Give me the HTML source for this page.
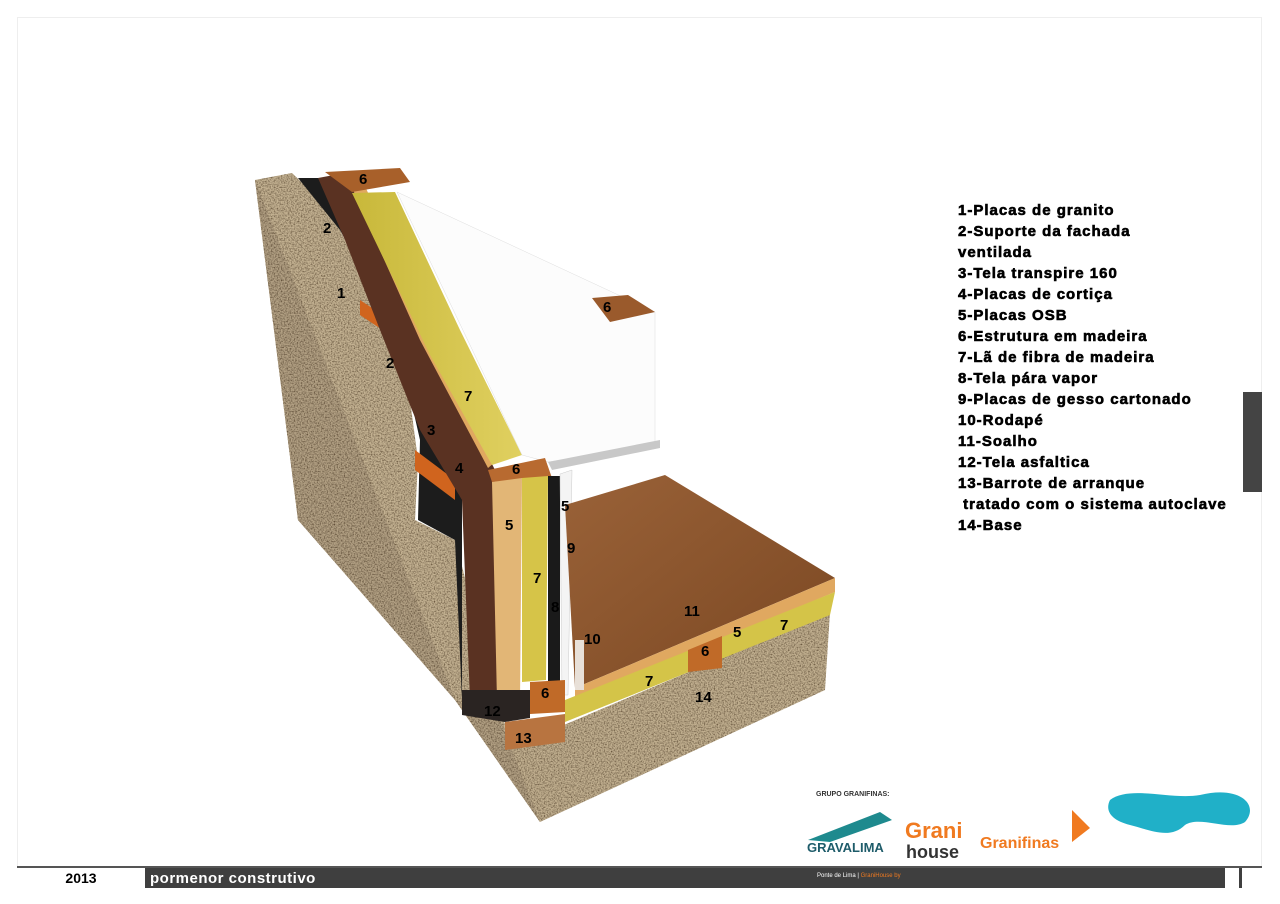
<!DOCTYPE html>
<html><head><meta charset="utf-8"><style>
html,body{margin:0;padding:0;background:#fff;width:1280px;height:904px;overflow:hidden;font-family:"Liberation Sans",sans-serif}
.frame{position:absolute;left:17px;top:17px;width:1245px;height:868px;border:1px solid #eee;box-sizing:border-box}
.legend{position:absolute;left:958px;top:200px;font-weight:bold;font-size:15px;line-height:21px;color:#000;-webkit-text-stroke:0.6px #000;letter-spacing:1px;white-space:nowrap}
.tab{position:absolute;left:1243px;top:392px;width:19px;height:100px;background:#444}
.bar{position:absolute;left:17px;top:866px;width:1245px;height:20px;background:#3f3f3f;border-top:2px solid #555}
.y{position:absolute;left:0;top:0;width:128px;height:20px;background:#fff;font-weight:bold;font-size:14px;line-height:20px;text-align:center}
.t{position:absolute;left:133px;top:0;color:#fff;font-weight:bold;font-size:15px;line-height:22px;letter-spacing:0.5px}
</style></head><body>
<div class="frame"></div>
<svg width="1280" height="904" style="position:absolute;left:0;top:0">
<defs>
<filter id="gran" x="0" y="0" width="100%" height="100%">
<feTurbulence type="fractalNoise" baseFrequency="0.7" numOctaves="2" seed="3"/>
<feColorMatrix values="0 0 0 0 0.25  0 0 0 0 0.2  0 0 0 0 0.15  0 0 0 2.2 -0.8"/>
<feComposite in2="SourceGraphic" operator="in"/>
<feBlend in2="SourceGraphic" mode="multiply"/>
</filter>
<linearGradient id="wood" x1="0" y1="0" x2="1" y2="1"><stop offset="0" stop-color="#9a6238"/><stop offset="1" stop-color="#7a4722"/></linearGradient>
<linearGradient id="yel" x1="0" y1="0" x2="1" y2="0"><stop offset="0" stop-color="#c8b83a"/><stop offset="1" stop-color="#e0d060"/></linearGradient>
</defs>
<g filter="url(#gran)">
<polygon points="255,180 292,173 330,210 370,290 400,330 410,400 418,460 415,520 455,540 500,710 540,822 455,700 298,520" fill="#c4b292"/>
<polygon points="455,695 505,750 830,612 825,690 540,822" fill="#c2b090"/>
<polygon points="255,180 298,520 455,700 540,822 500,720 455,700" fill="#b3a184"/>
</g>
<polygon points="298,178 325,178 385,290 430,420 462,470 462,700 455,540 418,520 420,440 395,330 340,230" fill="#1c1c1c"/>
<polygon points="415,450 455,480 455,500 415,470" fill="#d0641e"/>
<polygon points="360,300 390,320 390,335 360,315" fill="#d0641e"/>
<polygon points="318,178 350,172 395,255 440,350 475,430 495,470 497,690 470,700 462,500 420,430 380,330 345,240" fill="#5a3222"/>
<polygon points="345,172 360,175 430,330 495,462 488,468 420,340" fill="#e0a860"/>
<polygon points="352,193 395,192 460,330 522,455 492,465 430,355" fill="url(#yel)"/>
<polygon points="325,172 400,168 410,182 352,192" fill="#a8602a"/>
<polygon points="397,192 655,312 655,445 548,462 522,455 470,345" fill="#fcfcfc" stroke="#ddd" stroke-width="0.5"/>
<polygon points="548,462 660,440 660,448 552,470" fill="#c8c8c8"/>
<polygon points="592,298 628,295 655,312 610,322" fill="#9a5a2c"/>
<polygon points="488,470 545,458 552,478 492,482" fill="#b86a30"/>
<polygon points="492,482 522,478 520,702 497,700" fill="#e2b676"/>
<polygon points="522,478 548,476 546,680 522,682" fill="#d6c448"/>
<polygon points="548,476 560,476 560,692 548,692" fill="#1a1a1a"/>
<polygon points="560,474 572,470 568,695 562,695" fill="#f4f4f4" stroke="#ccc" stroke-width="0.5"/>
<polygon points="530,682 565,680 565,712 530,714" fill="#c06a28"/>
<polygon points="462,690 530,690 530,718 505,722 462,715" fill="#2a2422"/>
<polygon points="505,722 565,714 565,742 505,750" fill="#b87440"/>
<polygon points="565,505 665,475 835,578 575,688" fill="url(#wood)"/>
<polygon points="575,688 835,578 835,592 575,700" fill="#e0a860"/>
<polygon points="565,700 835,592 830,615 565,722" fill="#d4c448"/>
<polygon points="688,650 722,636 722,668 688,672" fill="#c06a28"/>
<polygon points="575,640 584,640 584,690 575,690" fill="#e8e0d8"/>
<g font-family="Liberation Sans" font-weight="bold" font-size="15" fill="#000">
<text x="359" y="184">6</text><text x="323" y="233">2</text><text x="337" y="298">1</text><text x="386" y="368">2</text>
<text x="464" y="401">7</text><text x="427" y="435">3</text><text x="455" y="473">4</text><text x="512" y="474">6</text>
<text x="603" y="312">6</text><text x="505" y="530">5</text><text x="561" y="511">5</text><text x="567" y="553">9</text>
<text x="533" y="583">7</text><text x="551" y="612">8</text><text x="584" y="644">10</text><text x="684" y="616">11</text>
<text x="733" y="637">5</text><text x="780" y="630">7</text><text x="701" y="656">6</text><text x="541" y="698">6</text>
<text x="645" y="686">7</text><text x="695" y="702">14</text><text x="484" y="716">12</text><text x="515" y="743">13</text>
</g>
<text x="816" y="796" font-size="7" font-weight="bold" fill="#333">GRUPO GRANIFINAS:</text>
<polygon points="808,840 880,812 892,820 830,842" fill="#1e8a8e"/>
<text x="807" y="852" font-size="13" font-weight="bold" fill="#1e5c6a">GRAVALIMA</text>
<text x="905" y="838" font-size="22" font-weight="bold" fill="#f07a20">Grani</text>
<text x="906" y="858" font-size="18" font-weight="bold" fill="#333">house</text>
<text x="980" y="848" font-size="16" font-weight="bold" fill="#f07a20">Granifinas</text>
<polygon points="1072,810 1090,828 1072,842" fill="#f07a20"/>
<path d="M1110,800 C1130,785 1170,800 1200,795 C1240,785 1260,805 1245,822 C1230,832 1200,815 1185,825 C1170,840 1150,830 1130,825 C1110,820 1105,810 1110,800Z" fill="#20b0c8"/>
<rect x="1042" y="870" width="32" height="14" fill="#30a8c0"/>
</svg>
<div class="legend">1-Placas de granito<br>2-Suporte da fachada<br>ventilada<br>3-Tela transpire 160<br>4-Placas de cortiça<br>5-Placas OSB<br>6-Estrutura em madeira<br>7-Lã de fibra de madeira<br>8-Tela pára vapor<br>9-Placas de gesso cartonado<br>10-Rodapé<br>11-Soalho<br>12-Tela asfaltica<br>13-Barrote de arranque<br>&nbsp;tratado com o sistema autoclave<br>14-Base</div>
<div class="tab"></div>
<div class="bar"><div class="y">2013</div><div class="t">pormenor construtivo</div>
<div style="position:absolute;left:800px;top:5px;color:#fff;font-size:6px">Ponte de Lima | <span style="color:#f07a20">GraniHouse by</span></div>
<div style="position:absolute;left:1208px;top:0;width:14px;height:20px;background:#fff"></div>
<div style="position:absolute;left:1225px;top:0;width:20px;height:20px;background:#fff"></div>
</div>
</body></html>
